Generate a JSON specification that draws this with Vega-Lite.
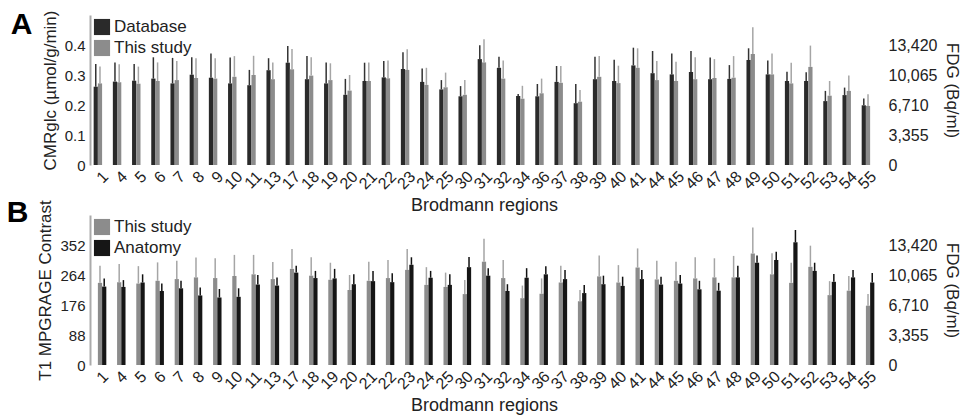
{
  "$schema": "https://vega.github.io/schema/vega-lite/v6.json",
  "background": "white",
  "padding": {"left": 6, "top": 10, "right": 4, "bottom": 2},
  "bounds": "flush",
  "spacing": 50,
  "config": {
    "font": "Liberation Sans",
    "view": {"stroke": null},
    "axis": {"grid": false, "ticks": false, "labelColor": "#222", "titleColor": "#222", "titleFontWeight": "normal"}
  },
  "datasets": {
    "A": [
      {"region": "1", "series": "Database", "mean": 0.261, "upper": 0.337}, {"region": "1", "series": "This study", "mean": 0.272, "upper": 0.328},
      {"region": "4", "series": "Database", "mean": 0.278, "upper": 0.342}, {"region": "4", "series": "This study", "mean": 0.276, "upper": 0.336},
      {"region": "5", "series": "Database", "mean": 0.281, "upper": 0.337}, {"region": "5", "series": "This study", "mean": 0.271, "upper": 0.328},
      {"region": "6", "series": "Database", "mean": 0.288, "upper": 0.359}, {"region": "6", "series": "This study", "mean": 0.280, "upper": 0.342},
      {"region": "7", "series": "Database", "mean": 0.272, "upper": 0.357}, {"region": "7", "series": "This study", "mean": 0.283, "upper": 0.347},
      {"region": "8", "series": "Database", "mean": 0.301, "upper": 0.359}, {"region": "8", "series": "This study", "mean": 0.290, "upper": 0.356},
      {"region": "9", "series": "Database", "mean": 0.291, "upper": 0.372}, {"region": "9", "series": "This study", "mean": 0.288, "upper": 0.356},
      {"region": "10", "series": "Database", "mean": 0.272, "upper": 0.358}, {"region": "10", "series": "This study", "mean": 0.294, "upper": 0.363},
      {"region": "11", "series": "Database", "mean": 0.266, "upper": 0.317}, {"region": "11", "series": "This study", "mean": 0.300, "upper": 0.364},
      {"region": "13", "series": "Database", "mean": 0.316, "upper": 0.356}, {"region": "13", "series": "This study", "mean": 0.286, "upper": 0.342},
      {"region": "17", "series": "Database", "mean": 0.341, "upper": 0.397}, {"region": "17", "series": "This study", "mean": 0.319, "upper": 0.387},
      {"region": "18", "series": "Database", "mean": 0.286, "upper": 0.363}, {"region": "18", "series": "This study", "mean": 0.298, "upper": 0.359},
      {"region": "19", "series": "Database", "mean": 0.272, "upper": 0.342}, {"region": "19", "series": "This study", "mean": 0.283, "upper": 0.339},
      {"region": "20", "series": "Database", "mean": 0.234, "upper": 0.287}, {"region": "20", "series": "This study", "mean": 0.248, "upper": 0.300},
      {"region": "21", "series": "Database", "mean": 0.280, "upper": 0.341}, {"region": "21", "series": "This study", "mean": 0.280, "upper": 0.342},
      {"region": "22", "series": "Database", "mean": 0.292, "upper": 0.347}, {"region": "22", "series": "This study", "mean": 0.289, "upper": 0.348},
      {"region": "23", "series": "Database", "mean": 0.320, "upper": 0.376}, {"region": "23", "series": "This study", "mean": 0.317, "upper": 0.386},
      {"region": "24", "series": "Database", "mean": 0.277, "upper": 0.322}, {"region": "24", "series": "This study", "mean": 0.267, "upper": 0.324},
      {"region": "25", "series": "Database", "mean": 0.252, "upper": 0.283}, {"region": "25", "series": "This study", "mean": 0.259, "upper": 0.308},
      {"region": "30", "series": "Database", "mean": 0.229, "upper": 0.263}, {"region": "30", "series": "This study", "mean": 0.234, "upper": 0.283},
      {"region": "31", "series": "Database", "mean": 0.353, "upper": 0.399}, {"region": "31", "series": "This study", "mean": 0.342, "upper": 0.419},
      {"region": "32", "series": "Database", "mean": 0.324, "upper": 0.361}, {"region": "32", "series": "This study", "mean": 0.288, "upper": 0.348},
      {"region": "34", "series": "Database", "mean": 0.230, "upper": 0.237}, {"region": "34", "series": "This study", "mean": 0.221, "upper": 0.264},
      {"region": "36", "series": "Database", "mean": 0.229, "upper": 0.270}, {"region": "36", "series": "This study", "mean": 0.239, "upper": 0.288},
      {"region": "37", "series": "Database", "mean": 0.277, "upper": 0.330}, {"region": "37", "series": "This study", "mean": 0.274, "upper": 0.330},
      {"region": "38", "series": "Database", "mean": 0.206, "upper": 0.270}, {"region": "38", "series": "This study", "mean": 0.211, "upper": 0.250},
      {"region": "39", "series": "Database", "mean": 0.286, "upper": 0.361}, {"region": "39", "series": "This study", "mean": 0.294, "upper": 0.363},
      {"region": "40", "series": "Database", "mean": 0.280, "upper": 0.351}, {"region": "40", "series": "This study", "mean": 0.273, "upper": 0.331},
      {"region": "41", "series": "Database", "mean": 0.332, "upper": 0.391}, {"region": "41", "series": "This study", "mean": 0.324, "upper": 0.389},
      {"region": "44", "series": "Database", "mean": 0.306, "upper": 0.380}, {"region": "44", "series": "This study", "mean": 0.283, "upper": 0.347},
      {"region": "45", "series": "Database", "mean": 0.302, "upper": 0.372}, {"region": "45", "series": "This study", "mean": 0.280, "upper": 0.344},
      {"region": "46", "series": "Database", "mean": 0.310, "upper": 0.380}, {"region": "46", "series": "This study", "mean": 0.286, "upper": 0.359},
      {"region": "47", "series": "Database", "mean": 0.286, "upper": 0.358}, {"region": "47", "series": "This study", "mean": 0.290, "upper": 0.353},
      {"region": "48", "series": "Database", "mean": 0.287, "upper": 0.333}, {"region": "48", "series": "This study", "mean": 0.291, "upper": 0.363},
      {"region": "49", "series": "Database", "mean": 0.350, "upper": 0.389}, {"region": "49", "series": "This study", "mean": 0.370, "upper": 0.459},
      {"region": "50", "series": "Database", "mean": 0.302, "upper": 0.348}, {"region": "50", "series": "This study", "mean": 0.302, "upper": 0.372},
      {"region": "51", "series": "Database", "mean": 0.280, "upper": 0.311}, {"region": "51", "series": "This study", "mean": 0.272, "upper": 0.341},
      {"region": "52", "series": "Database", "mean": 0.280, "upper": 0.309}, {"region": "52", "series": "This study", "mean": 0.327, "upper": 0.398},
      {"region": "53", "series": "Database", "mean": 0.213, "upper": 0.247}, {"region": "53", "series": "This study", "mean": 0.231, "upper": 0.280},
      {"region": "54", "series": "Database", "mean": 0.233, "upper": 0.258}, {"region": "54", "series": "This study", "mean": 0.247, "upper": 0.298},
      {"region": "55", "series": "Database", "mean": 0.199, "upper": 0.222}, {"region": "55", "series": "This study", "mean": 0.197, "upper": 0.236}
    ],
    "B": [
      {"region": "1", "series": "This study", "mean": 241, "upper": 291}, {"region": "1", "series": "Anatomy", "mean": 230, "upper": 254},
      {"region": "4", "series": "This study", "mean": 243, "upper": 296}, {"region": "4", "series": "Anatomy", "mean": 229, "upper": 249},
      {"region": "5", "series": "This study", "mean": 239, "upper": 290}, {"region": "5", "series": "Anatomy", "mean": 242, "upper": 266},
      {"region": "6", "series": "This study", "mean": 247, "upper": 301}, {"region": "6", "series": "Anatomy", "mean": 217, "upper": 239},
      {"region": "7", "series": "This study", "mean": 252, "upper": 306}, {"region": "7", "series": "Anatomy", "mean": 225, "upper": 247},
      {"region": "8", "series": "This study", "mean": 257, "upper": 315}, {"region": "8", "series": "Anatomy", "mean": 204, "upper": 227},
      {"region": "9", "series": "This study", "mean": 255, "upper": 313}, {"region": "9", "series": "Anatomy", "mean": 198, "upper": 223},
      {"region": "10", "series": "This study", "mean": 261, "upper": 323}, {"region": "10", "series": "Anatomy", "mean": 200, "upper": 225},
      {"region": "11", "series": "This study", "mean": 266, "upper": 323}, {"region": "11", "series": "Anatomy", "mean": 236, "upper": 264},
      {"region": "13", "series": "This study", "mean": 252, "upper": 302}, {"region": "13", "series": "Anatomy", "mean": 233, "upper": 257},
      {"region": "17", "series": "This study", "mean": 282, "upper": 340}, {"region": "17", "series": "Anatomy", "mean": 271, "upper": 291},
      {"region": "18", "series": "This study", "mean": 262, "upper": 316}, {"region": "18", "series": "Anatomy", "mean": 255, "upper": 276},
      {"region": "19", "series": "This study", "mean": 250, "upper": 300}, {"region": "19", "series": "Anatomy", "mean": 254, "upper": 282},
      {"region": "20", "series": "This study", "mean": 220, "upper": 264}, {"region": "20", "series": "Anatomy", "mean": 237, "upper": 266},
      {"region": "21", "series": "This study", "mean": 247, "upper": 303}, {"region": "21", "series": "Anatomy", "mean": 246, "upper": 276},
      {"region": "22", "series": "This study", "mean": 255, "upper": 308}, {"region": "22", "series": "Anatomy", "mean": 243, "upper": 269},
      {"region": "23", "series": "This study", "mean": 279, "upper": 340}, {"region": "23", "series": "Anatomy", "mean": 294, "upper": 316},
      {"region": "24", "series": "This study", "mean": 235, "upper": 287}, {"region": "24", "series": "Anatomy", "mean": 256, "upper": 276},
      {"region": "25", "series": "This study", "mean": 229, "upper": 271}, {"region": "25", "series": "Anatomy", "mean": 235, "upper": 266},
      {"region": "30", "series": "This study", "mean": 208, "upper": 249}, {"region": "30", "series": "Anatomy", "mean": 287, "upper": 317},
      {"region": "31", "series": "This study", "mean": 303, "upper": 370}, {"region": "31", "series": "Anatomy", "mean": 262, "upper": 284},
      {"region": "32", "series": "This study", "mean": 255, "upper": 308}, {"region": "32", "series": "Anatomy", "mean": 217, "upper": 237},
      {"region": "34", "series": "This study", "mean": 196, "upper": 233}, {"region": "34", "series": "Anatomy", "mean": 256, "upper": 284},
      {"region": "36", "series": "This study", "mean": 209, "upper": 254}, {"region": "36", "series": "Anatomy", "mean": 266, "upper": 290},
      {"region": "37", "series": "This study", "mean": 242, "upper": 291}, {"region": "37", "series": "Anatomy", "mean": 252, "upper": 279},
      {"region": "38", "series": "This study", "mean": 187, "upper": 220}, {"region": "38", "series": "Anatomy", "mean": 211, "upper": 235},
      {"region": "39", "series": "This study", "mean": 260, "upper": 321}, {"region": "39", "series": "Anatomy", "mean": 237, "upper": 262},
      {"region": "40", "series": "This study", "mean": 242, "upper": 293}, {"region": "40", "series": "Anatomy", "mean": 232, "upper": 259},
      {"region": "41", "series": "This study", "mean": 286, "upper": 342}, {"region": "41", "series": "Anatomy", "mean": 252, "upper": 279},
      {"region": "44", "series": "This study", "mean": 251, "upper": 306}, {"region": "44", "series": "Anatomy", "mean": 236, "upper": 259},
      {"region": "45", "series": "This study", "mean": 247, "upper": 303}, {"region": "45", "series": "Anatomy", "mean": 239, "upper": 264},
      {"region": "46", "series": "This study", "mean": 254, "upper": 316}, {"region": "46", "series": "Anatomy", "mean": 222, "upper": 247},
      {"region": "47", "series": "This study", "mean": 257, "upper": 313}, {"region": "47", "series": "Anatomy", "mean": 218, "upper": 241},
      {"region": "48", "series": "This study", "mean": 257, "upper": 320}, {"region": "48", "series": "Anatomy", "mean": 257, "upper": 291},
      {"region": "49", "series": "This study", "mean": 327, "upper": 403}, {"region": "49", "series": "Anatomy", "mean": 300, "upper": 321},
      {"region": "50", "series": "This study", "mean": 266, "upper": 328}, {"region": "50", "series": "Anatomy", "mean": 308, "upper": 332},
      {"region": "51", "series": "This study", "mean": 241, "upper": 300}, {"region": "51", "series": "Anatomy", "mean": 360, "upper": 396},
      {"region": "52", "series": "This study", "mean": 288, "upper": 350}, {"region": "52", "series": "Anatomy", "mean": 276, "upper": 300},
      {"region": "53", "series": "This study", "mean": 205, "upper": 246}, {"region": "53", "series": "Anatomy", "mean": 244, "upper": 267},
      {"region": "54", "series": "This study", "mean": 218, "upper": 261}, {"region": "54", "series": "Anatomy", "mean": 257, "upper": 279},
      {"region": "55", "series": "This study", "mean": 174, "upper": 208}, {"region": "55", "series": "Anatomy", "mean": 242, "upper": 270}
    ]
  },
  "vconcat": [
    {
      "data": {"name": "A"},
      "width": 788,
      "height": 150,
      "title": {"text": "A", "orient": "left", "anchor": "end", "angle": 0, "align": "right", "baseline": "top", "fontSize": 30, "fontWeight": "bold", "color": "#000", "offset": -13},
      "encoding": {
        "x": {"field": "region", "type": "nominal", "sort": null, "scale": {"paddingInner": 0.34, "paddingOuter": 0.19},
              "axis": {"title": "Brodmann regions", "labelAngle": -45, "labelFontSize": 16, "labelPadding": 3, "domain": false, "titleFontSize": 18, "titlePadding": 5}},
        "xOffset": {"field": "series", "type": "nominal", "scale": {"domain": ["Database", "This study"]}}
      },
      "layer": [
        {
          "mark": {"type": "bar"},
          "encoding": {
            "y": {"field": "mean", "type": "quantitative", "scale": {"domain": [0, 0.5], "nice": false},
                  "axis": {"title": "CMRglc (µmol/g/min)", "values": [0, 0.1, 0.2, 0.3, 0.4], "format": "~g", "labelFontSize": 15, "labelPadding": 5, "titleFontSize": 17, "titlePadding": 5, "domainColor": "#aaa", "domainWidth": 2}},
            "color": {"field": "series", "type": "nominal", "scale": {"domain": ["Database", "This study"], "range": ["#2a2a2a", "#8c8c8c"]},
                      "legend": {"title": null, "orient": "top-left", "offset": 3, "padding": 0, "labelFontSize": 17, "labelColor": "#222", "symbolType": "square", "symbolSize": 260, "rowPadding": 3, "labelOffset": 3}}
          }
        },
        {
          "mark": {"type": "rule", "strokeWidth": 1.5},
          "encoding": {
            "y": {"field": "mean", "type": "quantitative", "scale": {"domain": [0, 0.5], "nice": false},
                  "axis": {"orient": "right", "title": "FDG (Bq/ml)", "values": [0, 0.1, 0.2, 0.3, 0.4], "labelExpr": "format(datum.value * 33550, ',.0f')", "domain": false, "labelFontSize": 16, "labelPadding": 10, "titleFontSize": 17, "titlePadding": 6}},
            "y2": {"field": "upper"},
            "color": {"field": "series", "type": "nominal", "scale": {"domain": ["Database", "This study"], "range": ["#333333", "#a5a5a5"]}, "legend": null}
          }
        }
      ],
      "resolve": {"scale": {"y": "independent", "color": "independent"}}
    },
    {
      "data": {"name": "B"},
      "width": 788,
      "height": 150,
      "title": {"text": "B", "orient": "left", "anchor": "end", "angle": 0, "align": "right", "baseline": "top", "fontSize": 30, "fontWeight": "bold", "color": "#000", "offset": -13, "dy": -2},
      "encoding": {
        "x": {"field": "region", "type": "nominal", "sort": null, "scale": {"paddingInner": 0.34, "paddingOuter": 0.19},
              "axis": {"title": "Brodmann regions", "labelAngle": -45, "labelFontSize": 16, "labelPadding": 3, "domain": false, "titleFontSize": 18, "titlePadding": 5}},
        "xOffset": {"field": "series", "type": "nominal", "scale": {"domain": ["This study", "Anatomy"]}}
      },
      "layer": [
        {
          "mark": {"type": "bar"},
          "encoding": {
            "y": {"field": "mean", "type": "quantitative", "scale": {"domain": [0, 440], "nice": false},
                  "axis": {"title": "T1 MPGRAGE Contrast", "values": [0, 88, 176, 264, 352], "labelFontSize": 15, "labelPadding": 5, "titleFontSize": 17, "titlePadding": 5, "domainColor": "#aaa", "domainWidth": 2}},
            "color": {"field": "series", "type": "nominal", "scale": {"domain": ["This study", "Anatomy"], "range": ["#8c8c8c", "#161616"]},
                      "legend": {"title": null, "orient": "top-left", "offset": 3, "padding": 0, "labelFontSize": 17, "labelColor": "#222", "symbolType": "square", "symbolSize": 260, "rowPadding": 3, "labelOffset": 3}}
          }
        },
        {
          "mark": {"type": "rule", "strokeWidth": 1.5},
          "encoding": {
            "y": {"field": "mean", "type": "quantitative", "scale": {"domain": [0, 440], "nice": false},
                  "axis": {"orient": "right", "title": "FDG (Bq/ml)", "values": [0, 88, 176, 264, 352], "labelExpr": "format(datum.value * 38.125, ',.0f')", "domain": false, "labelFontSize": 16, "labelPadding": 10, "titleFontSize": 17, "titlePadding": 6}},
            "y2": {"field": "upper"},
            "color": {"field": "series", "type": "nominal", "scale": {"domain": ["This study", "Anatomy"], "range": ["#a5a5a5", "#111111"]}, "legend": null}
          }
        }
      ],
      "resolve": {"scale": {"y": "independent", "color": "independent"}}
    }
  ]
}
